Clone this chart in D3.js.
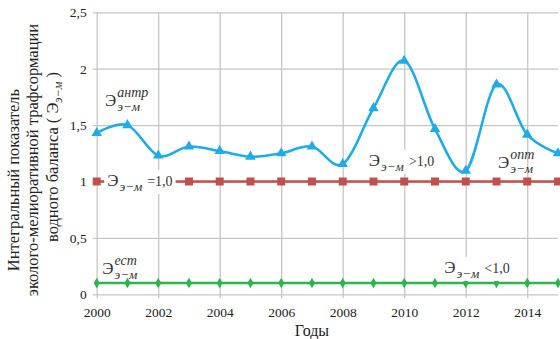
<!DOCTYPE html>
<html>
<head>
<meta charset="utf-8">
<script src="https://cdn.jsdelivr.net/npm/d3@7"></script>
<style>
  body { margin: 0; background: #fff; }
  svg { display: block; }
  svg text { font-family: "Liberation Serif", "Times New Roman", serif; }
</style>
</head>
<body>
<svg width="560" height="339"></svg>
<script>
const years = d3.range(2000, 2016);
const anthro = [1.43, 1.50, 1.23, 1.31, 1.27, 1.22, 1.25, 1.31, 1.155, 1.65, 2.07, 1.465, 1.095, 1.86, 1.415, 1.25];
const optimum = [1, 1, 1, 1, 1, 1, 1, 1, 1, 1, 1, 1, 1, 1, 1, 1];
const natural = [0.1, 0.1, 0.1, 0.1, 0.1, 0.1, 0.1, 0.1, 0.1, 0.1, 0.1, 0.1, 0.1, 0.1, 0.1, 0.1];
const yTicks = [0, 0.5, 1, 1.5, 2, 2.5];
const xTicks = [2000, 2002, 2004, 2006, 2008, 2010, 2012, 2014];

const svg = d3.select("svg");
const mLeft = 96.7, mRight = 558, mTop = 12.3, mBottom = 294.3;

const x = d3.scaleLinear().domain([2000, 2015]).range([mLeft, mRight]);
const y = d3.scaleLinear().domain([0, 2.5]).range([mBottom, mTop]);

const grid = "#c6c6c6";

// y grid + labels
const yAxis = svg.append("g")
    .attr("transform", `translate(${mLeft - 4},0)`)
    .call(d3.axisLeft(y).tickValues(yTicks).tickSize(-(mRight - mLeft + 4)).tickPadding(6)
        .tickFormat((d) => String(d).replace(".", ",")))
    .attr("font-size", 13.5);
yAxis.select(".domain").remove();
yAxis.selectAll("line").attr("stroke", grid).attr("stroke-width", 1.3);
yAxis.selectAll("text").attr("fill", "#222");

// x grid + labels
const xAxis = svg.append("g")
    .attr("transform", `translate(0,${mBottom + 4})`)
    .call(d3.axisBottom(x).tickValues(xTicks).tickSize(-(mBottom + 4 - mTop)).tickPadding(9)
        .tickFormat(d3.format("d")))
    .attr("font-size", 13.5);
xAxis.select(".domain").remove();
xAxis.selectAll("line").attr("stroke", grid).attr("stroke-width", 1.3);
xAxis.selectAll("text").attr("fill", "#222");

// series
const lineOf = (vals, curve) => d3.line()
    .x((d, i) => x(years[i]))
    .y((d) => y(d))
    .curve(curve)(vals);

svg.append("path")
    .attr("d", lineOf(natural, d3.curveLinear))
    .attr("fill", "none").attr("stroke", "#2bb54b").attr("stroke-width", 2.5);
svg.append("g").selectAll("path")
    .data(natural)
    .join("path")
    .attr("d", d3.symbol(d3.symbolDiamond, 32))
    .attr("transform", (d, i) => `translate(${x(years[i])},${y(d)})`)
    .attr("fill", "#2bb54b");

svg.append("path")
    .attr("d", lineOf(optimum, d3.curveLinear))
    .attr("fill", "none").attr("stroke", "#c0504d").attr("stroke-width", 2.5);
svg.append("g").selectAll("rect")
    .data(optimum)
    .join("rect")
    .attr("x", (d, i) => x(years[i]) - 4)
    .attr("y", (d) => y(d) - 4)
    .attr("width", 8).attr("height", 8)
    .attr("fill", "#c0504d");

svg.append("path")
    .attr("d", lineOf(anthro, d3.curveCardinal.tension(0)))
    .attr("fill", "none").attr("stroke", "#1fabe6").attr("stroke-width", 2.6);
svg.append("g").selectAll("path")
    .data(anthro)
    .join("path")
    .attr("d", d3.symbol(d3.symbolTriangle, 48))
    .attr("transform", (d, i) => `translate(${x(years[i])},${y(d)})`)
    .attr("fill", "#1fabe6");

// math-style labels: Э with optional superscript / subscript and a tail
function eLabel(px, py, sup, tail, bg) {
  const g = svg.append("g");
  const box = g.append("rect").attr("fill", "#fff");
  const e = g.append("text").attr("x", px).attr("y", py).attr("font-size", 17).attr("fill", "#333").text("Э");
  const ew = e.node().getComputedTextLength();
  let w = 0;
  if (sup) {
    const s = g.append("text").attr("x", px + ew + 1).attr("y", py - 9)
      .attr("font-size", 14).attr("font-style", "italic").attr("fill", "#333").text(sup);
    w = s.node().getComputedTextLength();
  }
  const sb = g.append("text").attr("x", px + ew + 1).attr("y", py + 5)
    .attr("font-size", 13).attr("font-style", "italic").attr("fill", "#333").text("э−м");
  w = Math.max(w, sb.node().getComputedTextLength());
  let end = px + ew + 1 + w;
  if (tail) {
    const t = g.append("text").attr("x", end + 5).attr("y", py).attr("font-size", 14).attr("fill", "#333").text(tail);
    end += 5 + t.node().getComputedTextLength();
  }
  if (bg) box.attr("x", px - 3).attr("y", py - 16).attr("width", end - px + 6).attr("height", 24);
}

eLabel(x(2000.27), y(1.67), "антр");
eLabel(x(2000.34), y(0.96), null, "=1,0", true);
eLabel(x(2008.85), y(1.14), null, ">1,0", true);
eLabel(x(2013.05), y(1.12), "опт");
eLabel(x(2000.18), y(0.18), "ест");
eLabel(x(2011.3), y(0.19), null, "<1,0", true);

// axis titles
svg.append("text")
    .attr("x", x(2007.0)).attr("y", 336)
    .attr("text-anchor", "middle").attr("font-size", 16).attr("fill", "#222")
    .text("Годы");

const yt = svg.append("g").attr("font-size", 16.5).attr("fill", "#222").attr("text-anchor", "middle");
yt.append("text").attr("transform", "translate(19,180) rotate(-90)").text("Интегральный показатель");
yt.append("text").attr("transform", "translate(38,160) rotate(-90)").text("эколого-мелиоративной трафсормации");
const l3 = yt.append("text").attr("transform", "translate(58,157) rotate(-90)");
l3.append("tspan").text("водного баланса ( Э");
l3.append("tspan").attr("font-size", 12).attr("font-style", "italic").attr("dy", 4).text("э−м");
l3.append("tspan").attr("dy", -4).text(" )");
</script>
</body>
</html>
